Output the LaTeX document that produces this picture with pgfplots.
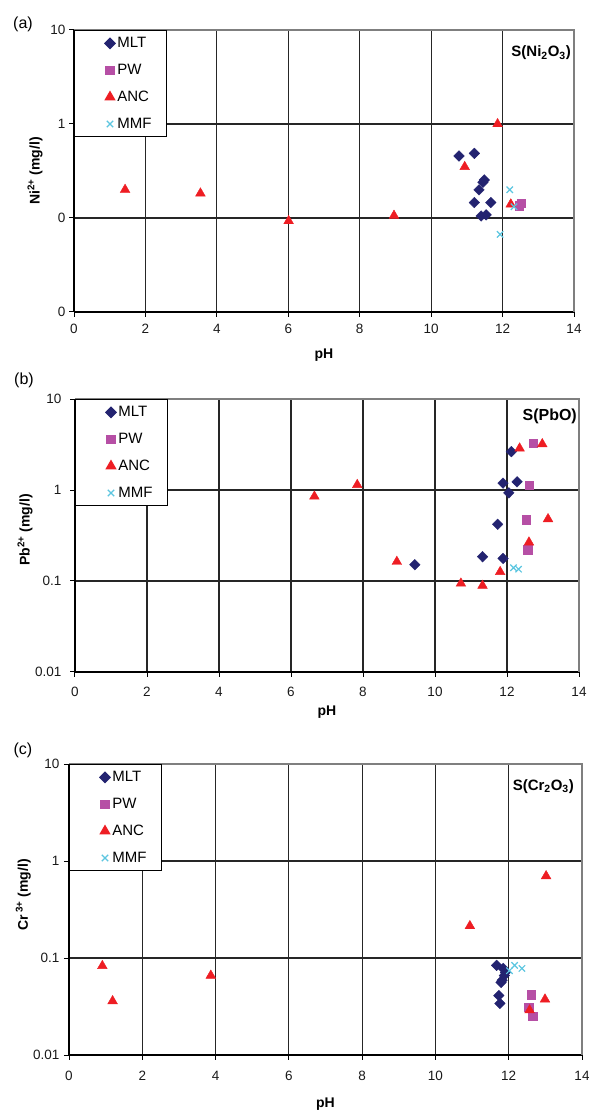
\documentclass[border=0pt]{standalone}
\usepackage{fontspec}
\setmainfont{Liberation Sans}
\usepackage{pgfplots}
\pgfplotsset{compat=1.18}

\definecolor{mltc}{HTML}{232370}
\definecolor{pwc}{HTML}{B64FA5}
\definecolor{ancc}{HTML}{EE1D23}
\definecolor{mmfc}{HTML}{5CC6E0}
\definecolor{framec}{HTML}{7F7F7F}

\begin{document}
\begin{tikzpicture}
\useasboundingbox (0pt,0pt) rectangle (589pt,1112pt);

% (a) Ni
\node[font=\fontsize{16}{18}\selectfont] at (23pt,1088pt) {(a)};
\begin{axis}[at={(74pt,800pt)}, anchor=south west, width=500pt, height=282pt,
    scale only axis,
    xmin=0, xmax=14, ymode=log, ymin=0.01, ymax=10,
    xtick={0,2,...,12}, extra x ticks={14},
    ytick={0.01,0.1,1}, yticklabels={0,0,1}, extra y ticks={10}, extra y tick labels={10},
    extra tick style={grid=none},
    yminorticks=false,
    axis lines*=left,
    axis line style={black, line width=1.6pt},
    tick style={black, line width=1pt},
    tick align=outside, major tick length=5pt,
    grid=major, major grid style={black!85, line width=1.2pt},
    ticklabel style={font=\fontsize{13.5}{15}\selectfont, text=black!90},
    /pgf/number format/assume math mode=true,
    label style={font=\bfseries\fontsize{14}{16}\selectfont},
    legend image code/.code={\path (0pt,0pt) (26pt,0pt); \draw[mark repeat=2,mark phase=2,#1] plot coordinates {(0pt,0pt)(22pt,0pt)(26pt,0pt)};},
    legend style={at={(rel axis cs:0,1)}, anchor=north west, draw=black, line width=1pt,
      fill=white, inner xsep=13pt, inner ysep=5pt, row sep=11pt,
      font=\fontsize{15}{17}\selectfont},
    legend cell align=left,
    clip=false,
    xticklabel style={yshift=-3.5pt},
    xlabel={pH},
    ylabel={Ni\textsuperscript{2+} (mg/l)},
    ylabel style={at={(axis description cs:-0.078,0.5)}, anchor=center},
    xlabel style={at={(axis description cs:0.5,0)}, anchor=center, yshift=-43pt}]
\addplot[only marks, mark=diamond*, mark size=5.3pt, color=mltc, mark options={xscale=1.33}] coordinates {(10.78,0.457) (11.21,0.487) (11.49,0.254) (11.45,0.24) (11.34,0.199) (11.21,0.146) (11.67,0.146) (11.40,0.105) (11.54,0.108)};
\addplot[only marks, mark=square*, mark size=4.2pt, color=pwc] coordinates {(12.52,0.143) (12.47,0.135)};
\addplot[only marks, mark=triangle*, mark size=5.6pt, color=ancc] coordinates {(1.43,0.20) (3.54,0.183) (6.01,0.093) (8.96,0.106) (10.94,0.35) (11.86,1.0) (12.23,0.14)};
\addplot[only marks, mark=x, mark size=4.5pt, color=mmfc, mark options={line width=1.2pt}] coordinates {(12.20,0.20) (12.32,0.132) (11.93,0.067)};
\legend{MLT,PW,ANC,MMF}
\draw[framec, line width=1.6pt] (rel axis cs:0,1) -- (rel axis cs:1,1) -- (rel axis cs:1,0);
\node[anchor=base east, inner sep=0pt, font=\bfseries\fontsize{15}{17}\selectfont]
  at (rel axis cs:1,1) [xshift=-3pt, yshift=-27pt] {S(Ni\textsubscript{2}O\textsubscript{3})};
\end{axis}

% (b) Pb
\node[font=\fontsize{16}{18}\selectfont] at (24pt,732pt) {(b)};
\begin{axis}[at={(75pt,440pt)}, anchor=south west, width=504pt, height=273pt,
    scale only axis,
    xmin=0, xmax=14, ymode=log, ymin=0.01, ymax=10,
    xtick={0,2,...,12}, extra x ticks={14},
    ytick={0.01,0.1,1}, yticklabels={0.01,0.1,1}, extra y ticks={10}, extra y tick labels={10},
    extra tick style={grid=none},
    yminorticks=false,
    axis lines*=left,
    axis line style={black, line width=1.6pt},
    tick style={black, line width=1pt},
    tick align=outside, major tick length=5pt,
    grid=major, major grid style={black!85, line width=1.2pt},
    ticklabel style={font=\fontsize{13.5}{15}\selectfont, text=black!90},
    /pgf/number format/assume math mode=true,
    label style={font=\bfseries\fontsize{14}{16}\selectfont},
    legend image code/.code={\path (0pt,0pt) (26pt,0pt); \draw[mark repeat=2,mark phase=2,#1] plot coordinates {(0pt,0pt)(22pt,0pt)(26pt,0pt)};},
    legend style={at={(rel axis cs:0,1)}, anchor=north west, draw=black, line width=1pt,
      fill=white, inner xsep=13pt, inner ysep=5pt, row sep=11pt,
      font=\fontsize{15}{17}\selectfont},
    legend cell align=left,
    clip=false,
    xticklabel style={yshift=-6.5pt},
    yticklabel style={xshift=-5pt},
    xlabel={pH},
    ylabel={Pb\textsuperscript{2+} (mg/l)},
    ylabel style={at={(axis description cs:-0.099,0.52)}, anchor=center},
    xlabel style={at={(axis description cs:0.5,0)}, anchor=center, yshift=-40pt}]
\addplot[only marks, mark=diamond*, mark size=5.3pt, color=mltc, mark options={xscale=1.33}] coordinates {(12.12,2.64) (11.89,1.19) (12.28,1.23) (12.05,0.93) (11.74,0.42) (11.32,0.185) (11.89,0.177) (9.44,0.151)};
\addplot[only marks, mark=square*, mark size=4.2pt, color=pwc] coordinates {(12.72,3.26) (12.61,1.13) (12.54,0.47) (12.57,0.22)};
\addplot[only marks, mark=triangle*, mark size=5.6pt, color=ancc] coordinates {(6.65,0.85) (7.84,1.14) (8.94,0.163) (10.72,0.094) (11.32,0.089) (11.81,0.126) (12.35,2.87) (12.98,3.2) (13.14,0.48) (12.61,0.266)};
\addplot[only marks, mark=x, mark size=4.5pt, color=mmfc, mark options={line width=1.2pt}] coordinates {(12.18,0.14) (12.32,0.135)};
\legend{MLT,PW,ANC,MMF}
\draw[framec, line width=1.6pt] (rel axis cs:0,1) -- (rel axis cs:1,1) -- (rel axis cs:1,0);
\node[anchor=base east, inner sep=0pt, font=\bfseries\fontsize{16}{18}\selectfont]
  at (rel axis cs:1,1) [xshift=-2pt, yshift=-21pt] {S(PbO)};
\end{axis}

% (c) Cr
\node[font=\fontsize{16}{18}\selectfont] at (23pt,362pt) {(c)};
\begin{axis}[at={(69pt,57pt)}, anchor=south west, width=513pt, height=291pt,
    scale only axis,
    xmin=0, xmax=14, ymode=log, ymin=0.01, ymax=10,
    xtick={0,2,...,12}, extra x ticks={14},
    ytick={0.01,0.1,1}, yticklabels={0.01,0.1,1}, extra y ticks={10}, extra y tick labels={10},
    extra tick style={grid=none},
    yminorticks=false,
    axis lines*=left,
    axis line style={black, line width=1.6pt},
    tick style={black, line width=1pt},
    tick align=outside, major tick length=5pt,
    grid=major, major grid style={black!85, line width=1.2pt},
    ticklabel style={font=\fontsize{13.5}{15}\selectfont, text=black!90},
    /pgf/number format/assume math mode=true,
    label style={font=\bfseries\fontsize{14}{16}\selectfont},
    legend image code/.code={\path (0pt,0pt) (26pt,0pt); \draw[mark repeat=2,mark phase=2,#1] plot coordinates {(0pt,0pt)(22pt,0pt)(26pt,0pt)};},
    legend style={at={(rel axis cs:0,1)}, anchor=north west, draw=black, line width=1pt,
      fill=white, inner xsep=13pt, inner ysep=5pt, row sep=11pt,
      font=\fontsize{15}{17}\selectfont},
    legend cell align=left,
    clip=false,
    xticklabel style={yshift=-7.5pt},
    yticklabel style={xshift=-1pt},
    xlabel={pH},
    ylabel={Cr\,\textsuperscript{3+} (mg/l)},
    ylabel style={at={(axis description cs:-0.089,0.55)}, anchor=center},
    xlabel style={at={(axis description cs:0.5,0)}, anchor=center, yshift=-49pt}]
\addplot[only marks, mark=diamond*, mark size=5.3pt, color=mltc, mark options={xscale=1.33}] coordinates {(11.67,0.084) (11.85,0.078) (11.91,0.071) (11.88,0.066) (11.82,0.059) (11.79,0.056) (11.73,0.041) (11.76,0.034)};
\addplot[only marks, mark=square*, mark size=4.2pt, color=pwc] coordinates {(12.62,0.042) (12.54,0.031) (12.65,0.025)};
\addplot[only marks, mark=triangle*, mark size=5.6pt, color=ancc] coordinates {(0.91,0.083) (1.19,0.036) (3.87,0.066) (10.94,0.214) (13.02,0.70) (12.57,0.029) (12.99,0.0375)};
\addplot[only marks, mark=x, mark size=4.5pt, color=mmfc, mark options={line width=1.2pt}] coordinates {(12.02,0.074) (12.16,0.084) (12.36,0.078)};
\legend{MLT,PW,ANC,MMF}
\draw[framec, line width=1.6pt] (rel axis cs:0,1) -- (rel axis cs:1,1) -- (rel axis cs:1,0);
\node[anchor=base east, inner sep=0pt, font=\bfseries\fontsize{15}{17}\selectfont]
  at (rel axis cs:1,1) [xshift=-8pt, yshift=-26pt] {S(Cr\textsubscript{2}O\textsubscript{3})};
\end{axis}
\end{tikzpicture}
\end{document}
